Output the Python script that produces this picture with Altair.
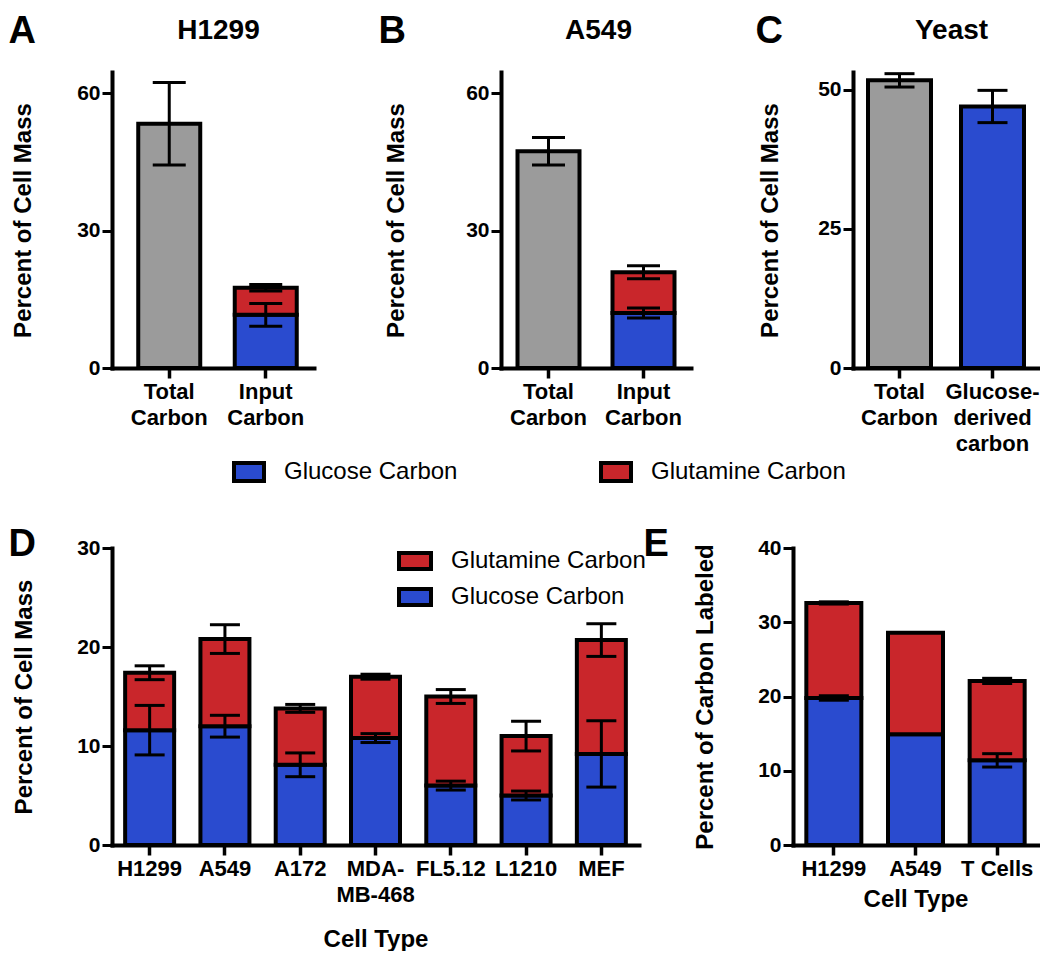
import altair as alt
import pandas as pd

FONT = "Liberation Sans"
BLUE = "#2a4bcf"
RED = "#c9262b"
GRAY = "#9b9b9b"

# ---------------- data ----------------
# Panel A - H1299
a_categories = ["Total Carbon", "Input Carbon"]
a_total = [53.3, 17.5]
a_total_err = [9.0, 0.7]
a_glucose = [None, 11.6]
a_glucose_err = [None, 2.5]

# Panel B - A549
b_categories = ["Total Carbon", "Input Carbon"]
b_total = [47.3, 20.9]
b_total_err = [3.0, 1.4]
b_glucose = [None, 12.0]
b_glucose_err = [None, 1.1]

# Panel C - Yeast
c_categories = ["Total Carbon", "Glucose-derived carbon"]
c_total = [51.7, 47.0]
c_total_err = [1.2, 2.9]
c_segment = ["Total Carbon", "Glucose Carbon"]

# Panel D - cell lines (percent of cell mass)
d_cells = ["H1299", "A549", "A172", "MDA-MB-468", "FL5.12", "L1210", "MEF"]
d_glucose = [11.6, 12.0, 8.1, 10.8, 6.0, 5.0, 9.2]
d_glucose_err = [2.5, 1.1, 1.2, 0.45, 0.45, 0.45, 3.35]
d_total = [17.4, 20.8, 13.8, 17.0, 15.0, 11.0, 20.7]
d_total_err = [0.7, 1.45, 0.4, 0.25, 0.7, 1.5, 1.65]

# Panel E - percent of carbon labeled
e_cells = ["H1299", "A549", "T Cells"]
e_glucose = [19.8, 14.9, 11.4]
e_glucose_err = [0.3, None, 0.9]
e_total = [32.6, 28.6, 22.1]
e_total_err = [0.15, None, 0.35]

legend_entries = ["Glucose Carbon", "Glutamine Carbon"]


def stacked(cats, glucose, total):
    rows = []
    for c, g, t in zip(cats, glucose, total):
        if g is None:
            rows.append({"cat": c, "seg": "Total Carbon", "lo": 0.0, "hi": t})
        else:
            rows.append({"cat": c, "seg": "Glucose Carbon", "lo": 0.0, "hi": g})
            rows.append({"cat": c, "seg": "Glutamine Carbon", "lo": g, "hi": t})
    return pd.DataFrame(rows)


def errors(cats, pairs):
    rows = []
    for means, errs in pairs:
        for c, m, e in zip(cats, means, errs):
            if m is None or e is None:
                continue
            rows.append({"cat": c, "lo": m - e, "hi": m + e})
    return pd.DataFrame(rows)


def panel(bars_df, err_df, cats, width, height, ymax, yticks, ytitle, ytitle_x,
          bar_size, cap, color_domain, color_range, legend, label_expr,
          bottom_title, top_title, band_outer=0.0, band_align=0.5):
    x_scale = alt.Scale(paddingInner=0, paddingOuter=band_outer, align=band_align)
    y_scale = alt.Scale(domain=[0, ymax], nice=False, zero=True)
    xkw = dict(orient="bottom", labelAngle=0, domainColor="black", domainWidth=4,
               domainCap="square", tickColor="black", tickWidth=3.5, tickSize=10,
               labelFont=FONT, labelFontSize=22, labelFontWeight="bold",
               labelColor="black", labelPadding=3, labelLineHeight=26, grid=False,
               labelOverlap=False, labelLimit=0, titleFont=FONT, titleColor="black",
               titleFontWeight="bold")
    if label_expr:
        xkw["labelExpr"] = label_expr
    xkw.update(bottom_title)
    x_axis = alt.Axis(**xkw)
    top_axis = alt.Axis(orient="top", domain=False, ticks=False, labels=False, grid=False,
                        titleFont=FONT, titleColor="black", titleFontWeight="bold",
                        titleAngle=0, titleBaseline="alphabetic", **top_title)
    y_axis = alt.Axis(values=yticks, title=ytitle, titleX=ytitle_x, titleY=height / 2,
                      titleBaseline="middle", titleAlign="center", titleFont=FONT,
                      titleFontSize=24, titleFontWeight="bold", titleColor="black",
                      domainColor="black", domainWidth=4, domainCap="square",
                      tickColor="black", tickWidth=3, tickSize=10, labelFont=FONT,
                      labelFontSize=21, labelFontWeight="bold", labelColor="black",
                      labelPadding=2, grid=False, labelFlush=False)
    bars = alt.Chart(bars_df).mark_bar(stroke="black", strokeWidth=4, size=bar_size,
                                       opacity=1).encode(
        x=alt.X("cat:N", sort=cats, scale=x_scale, axis=x_axis),
        y=alt.Y("lo:Q", scale=y_scale, axis=y_axis),
        y2="hi:Q",
        color=alt.Color("seg:N", scale=alt.Scale(domain=color_domain, range=color_range),
                        legend=legend),
    )
    rules = alt.Chart(err_df).mark_rule(color="black", strokeWidth=3).encode(
        x=alt.X("cat:N", sort=cats, scale=x_scale, axis=top_axis),
        y=alt.Y("lo:Q", scale=y_scale, axis=y_axis),
        y2="hi:Q",
    )
    caps_lo = alt.Chart(err_df).mark_tick(color="black", thickness=3, size=cap, opacity=1).encode(
        x=alt.X("cat:N", sort=cats, scale=x_scale, axis=None),
        y=alt.Y("lo:Q", scale=y_scale, axis=y_axis),
    )
    caps_hi = alt.Chart(err_df).mark_tick(color="black", thickness=3, size=cap, opacity=1).encode(
        x=alt.X("cat:N", sort=cats, scale=x_scale, axis=None),
        y=alt.Y("hi:Q", scale=y_scale, axis=y_axis),
    )
    return alt.layer(bars, rules, caps_lo, caps_hi).resolve_axis(x="independent").properties(
        width=width, height=height)


TOP_H = 296
BOT_H = 297

top_domain = ["Total Carbon", "Glucose Carbon", "Glutamine Carbon"]
top_range = [GRAY, BLUE, RED]
bot_domain = ["Glutamine Carbon", "Glucose Carbon"]
bot_range = [RED, BLUE]

top_legend = alt.Legend(
    orient="none", legendX=120, legendY=383, direction="horizontal", title=None,
    values=legend_entries, symbolType="M-1,-0.6H1V0.6H-1Z", symbolSize=900,
    symbolStrokeColor="black", symbolStrokeWidth=4, symbolOpacity=1,
    labelFont=FONT, labelFontSize=24, labelColor="black", labelOffset=18,
    columnPadding=135, labelLimit=0, padding=0,
)
bot_legend = alt.Legend(
    orient="none", legendX=285, legendY=-5, direction="vertical", title=None,
    symbolType="M-1,-0.5H1V0.5H-1Z", symbolSize=1024,
    symbolStrokeColor="black", symbolStrokeWidth=4, symbolOpacity=1,
    labelFont=FONT, labelFontSize=24, labelColor="black", labelOffset=18,
    rowPadding=2, labelLimit=0, padding=0,
)

TOP_LABELS = "split(replace(datum.label, 'Glucose-', 'Glucose- '), ' ')"
D_LABELS = "split(replace(datum.label, 'MDA-', 'MDA- '), ' ')"


def letter_bottom(letter, dx, height):
    return dict(title=letter, titleX=dx, titleY=-(height + 30), titleAlign="left",
                titleBaseline="alphabetic", titleFontSize=38, titleAngle=0)


def name_top(text, x):
    return dict(title=text, titleX=x, titleY=-34, titleAlign="center", titleFontSize=28)


def letter_top(letter, dx):
    return dict(title=letter, titleX=dx, titleY=7, titleAlign="left", titleFontSize=38)


def cell_type_bottom(y):
    return dict(title="Cell Type", titleY=y, titleBaseline="alphabetic", titleFontSize=24)


A = panel(stacked(a_categories, a_glucose, a_total),
          errors(a_categories, [(a_total, a_total_err), (a_glucose, a_glucose_err)]),
          a_categories, 202, TOP_H, 64.6, [0, 30, 60], "Percent of Cell Mass", -89,
          62, 33, top_domain, top_range, top_legend, TOP_LABELS,
          letter_bottom("A", -104, TOP_H), name_top("H1299", 106),
          band_outer=0.0466, band_align=1)

B = panel(stacked(b_categories, b_glucose, b_total),
          errors(b_categories, [(b_total, b_total_err), (b_glucose, b_glucose_err)]),
          b_categories, 190, TOP_H, 64.6, [0, 30, 60], "Percent of Cell Mass", -105,
          62, 33, top_domain, top_range, top_legend, TOP_LABELS,
          letter_bottom("B", -123, TOP_H), name_top("A549", 97))

c_bars = pd.DataFrame({"cat": c_categories, "seg": c_segment,
                       "lo": [0.0] * len(c_categories), "hi": c_total})
C = panel(c_bars, errors(c_categories, [(c_total, c_total_err)]),
          c_categories, 186, TOP_H, 53.2, [0, 25, 50], "Percent of Cell Mass", -83,
          63, 30, top_domain, top_range, top_legend, TOP_LABELS,
          letter_bottom("C", -98, TOP_H), name_top("Yeast", 98))

D = panel(stacked(d_cells, d_glucose, d_total),
          errors(d_cells, [(d_total, d_total_err), (d_glucose, d_glucose_err)]),
          d_cells, 527, BOT_H, 30, [0, 10, 20, 30], "Percent of Cell Mass", -88,
          49, 30, bot_domain, bot_range, bot_legend, D_LABELS,
          cell_type_bottom(101), letter_top("D", -104))

E = panel(stacked(e_cells, e_glucose, e_total),
          errors(e_cells, [(e_total, e_total_err), (e_glucose, e_glucose_err)]),
          e_cells, 245, BOT_H, 40, [0, 10, 20, 30, 40], "Percent of Carbon Labeled", -88,
          55, 30, bot_domain, bot_range, bot_legend, None,
          cell_type_bottom(61), letter_top("E", -150))

row1 = alt.hconcat(A, B, C, spacing=64)
row2 = alt.hconcat(D, E, spacing=4)

chart = alt.vconcat(row1, row2, spacing=36).resolve_scale(color="independent").properties(
    padding={"left": 0, "top": 4, "right": 0, "bottom": 0}, background="white"
).configure_view(stroke=None)

chart.save("out.html", embed_options={"renderer": "svg", "actions": False})
